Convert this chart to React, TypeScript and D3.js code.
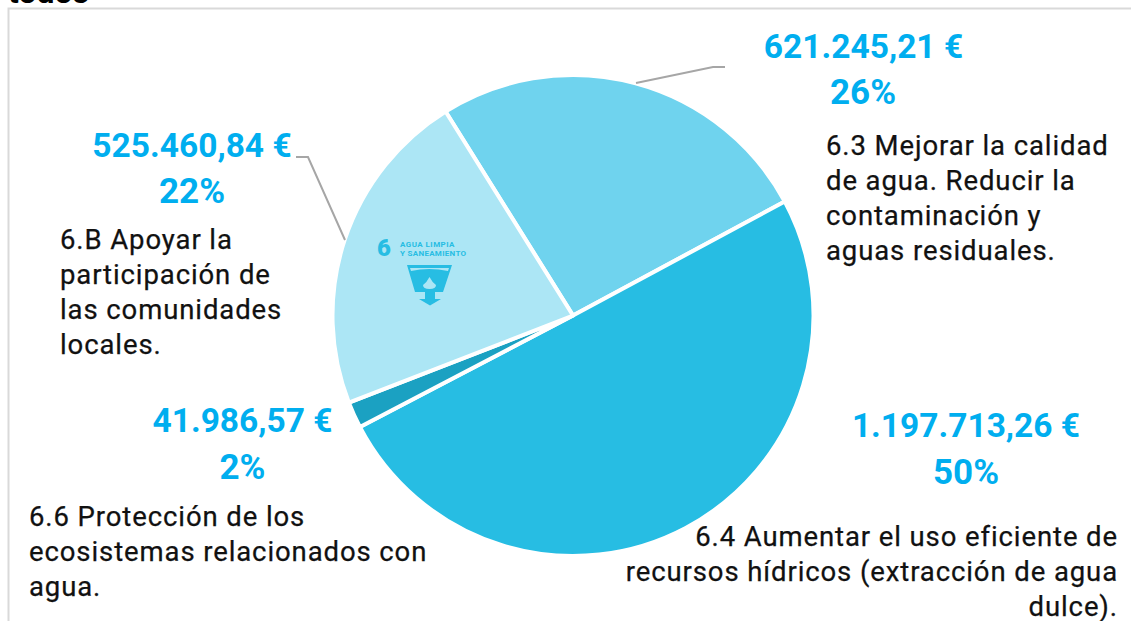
import React, { useEffect } from "react";
import * as d3 from "d3";

const categories = [
  "6.3 Mejorar la calidad de agua",
  "6.4 Aumentar el uso eficiente",
  "6.6 Protección de los ecosistemas",
  "6.B Apoyar la participación",
];
const amounts = [621245.21, 1197713.26, 41986.57, 525460.84];
const colours = ["#6fd3ee", "#27bde3", "#1ba1c2", "#ace6f5"];
const amountLabels = ["621.245,21 €", "1.197.713,26 €", "41.986,57 €", "525.460,84 €"];
const percentLabels = ["26%", "50%", "2%", "22%"];
const amountAnchors = [[863.5, 46], [966, 425], [242.5, 420], [192, 145]];
const percentAnchors = [[863, 91], [966, 471], [242.5, 466], [192, 190]];
const descriptionLines = [
  { x: 826, y: 145, anchor: "start", lines: ["6.3 Mejorar la calidad", "de agua. Reducir la", "contaminación y", "aguas residuales."] },
  { x: 1118, y: 536, anchor: "end", lines: ["6.4 Aumentar el uso eficiente de", "recursos hídricos (extracción de agua", "dulce)."] },
  { x: 29, y: 516, anchor: "start", lines: ["6.6 Protección de los", "ecosistemas relacionados con", "agua."] },
  { x: 60, y: 239, anchor: "start", lines: ["6.B Apoyar la", "participación de", "las comunidades", "locales."] },
];
const leaderLines = [
  [[636, 83], [713, 67], [725, 67]],
  [[345, 240], [308, 157], [296, 157]],
];

const CX = 573;
const CY = 315.5;
const R = 240.5;
const FONT = "Roboto, sans-serif";

export default function App() {
  useEffect(() => {
    document.body.style.margin = "0";
  }, []);
  const angle = d3.scaleLinear().domain([0, 360]).range([0, 2 * Math.PI]);
  const pie = d3
    .pie<number>()
    .sort(null)
    .startAngle(angle(-32))
    .endAngle(angle(328));
  const arc = d3.arc<d3.PieArcDatum<number>>().innerRadius(0).outerRadius(R);
  const slices = pie(amounts);
  const line = d3.line();
  return (
    <svg
      width={1131}
      height={621}
      style={{ display: "block", position: "absolute", left: 0, top: 0 }}
      fontFamily={FONT}
    >
      <rect width={1131} height={621} fill="#fff" />
      <text x={8} y={3} fontSize={32} fontWeight={700} fill="#000">todos</text>
      <path d="M8.5 621V8.5H1131" fill="none" stroke="#d9d9d9" strokeWidth={2} />
      <g transform={`translate(${CX},${CY})`}>
        {slices.map((s, i) => (
          <path key={categories[i]} d={arc(s) ?? ""} fill={colours[i]} stroke="#fff" strokeWidth={4} strokeLinejoin="round" />
        ))}
      </g>
      {leaderLines.map((l, i) => (
        <path key={i} d={line(l as [number, number][]) ?? ""} fill="none" stroke="#a6a6a6" strokeWidth={2} />
      ))}
      {amountLabels.map((t, i) => (
        <text key={t} x={amountAnchors[i][0]} y={amountAnchors[i][1]} dy="0.36em" textAnchor="middle" fontSize={33.5} fontWeight={700} fill="#00aeef">{t}</text>
      ))}
      {percentLabels.map((t, i) => (
        <text key={t} x={percentAnchors[i][0]} y={percentAnchors[i][1]} dy="0.36em" textAnchor="middle" fontSize={35} fontWeight={700} fill="#00aeef">{t}</text>
      ))}
      {descriptionLines.map((d) =>
        d.lines.map((t, j) => (
          <text key={t} x={d.x} y={d.y + j * 35} dy="0.36em" textAnchor={d.anchor as "start" | "end"} fontSize={27.5} letterSpacing={0.9} fill="#111" stroke="#111" strokeWidth={0.25}>{t}</text>
        ))
      )}
      <g fill="#27bde3">
        <text x={377} y={256} fontSize={24} fontWeight={900}>6</text>
        <text x={400} y={247} fontSize={8} fontWeight={700} letterSpacing={0.45}>AGUA LIMPIA</text>
        <text x={400} y={256} fontSize={8} fontWeight={700} letterSpacing={0.3}>Y SANEAMIENTO</text>
        <path d="M407 265H452L443 292H415ZM425 292H435V299H441L430 305.500L419 299H425Z" />
        <path d="M410 268H449L448 271Q429 267 411 271Z" fill="#ace6f5" />
        <path d="M429.500 277Q432 282 436 285Q436 289 429.500 289Q423 289 423 285Q427 282 429.500 277Z" fill="#ace6f5" />
      </g>
    </svg>
  );
}
